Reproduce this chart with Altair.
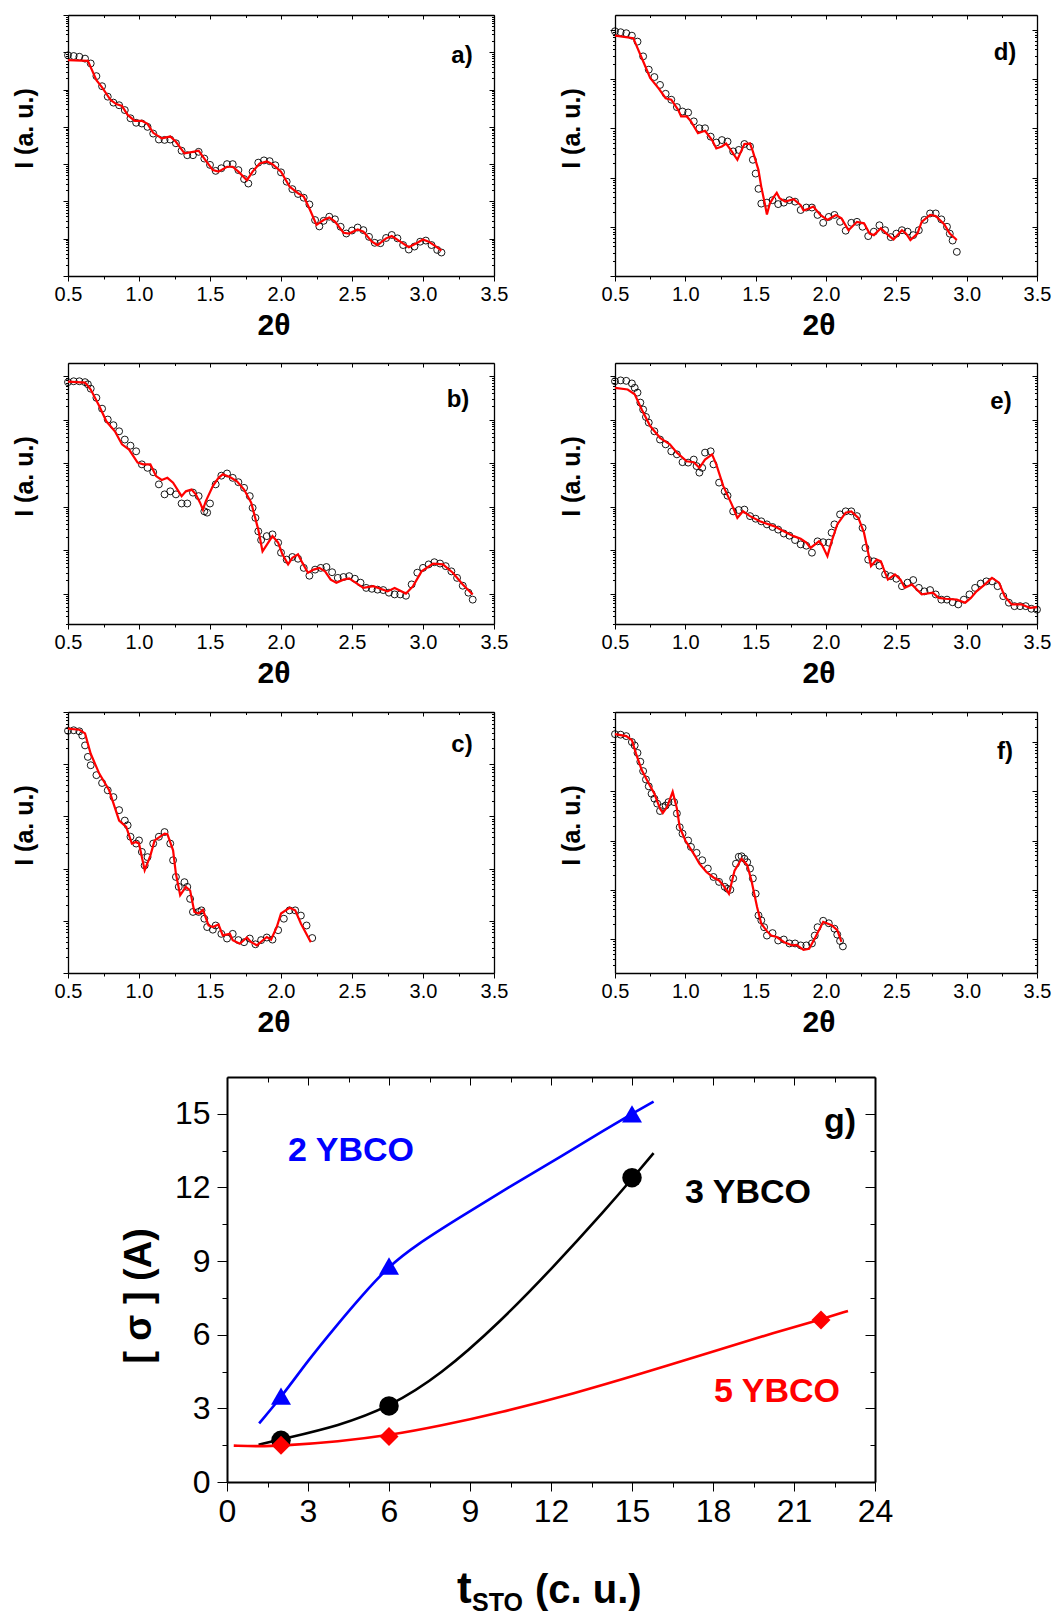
import math
import altair as alt
import pandas as pd

W, H = 1058, 1618
FONT = "Liberation Sans"

# ---------------- XRR data: 2theta (deg) and intensity read as log10 (a.u.) ----------------
A_X = [0.50,0.54,0.58,0.62,0.66,0.70,0.74,0.78,0.82,0.86,0.90,0.94,0.98,1.02,1.06,1.10,1.14,1.18,1.22,1.26,
       1.30,1.34,1.38,1.42,1.46,1.50,1.54,1.58,1.62,1.66,1.70,1.74,1.77,1.80,1.84,1.88,1.92,1.96,2.00,2.04,
       2.08,2.12,2.16,2.20,2.24,2.27,2.30,2.34,2.38,2.42,2.46,2.50,2.54,2.58,2.62,2.66,2.70,2.74,2.78,2.82,
       2.86,2.90,2.94,2.98,3.02,3.06,3.10,3.13]
A_LOG = [5.92,5.90,5.88,5.83,5.70,5.36,5.09,4.81,4.65,4.58,4.45,4.23,4.11,4.09,4.00,3.82,3.66,3.65,3.66,3.56,
         3.36,3.24,3.24,3.33,3.15,2.98,2.82,2.89,3.00,3.00,2.84,2.60,2.48,2.80,3.04,3.10,3.08,2.97,2.78,2.53,
         2.33,2.20,2.10,1.92,1.50,1.33,1.48,1.59,1.52,1.32,1.14,1.22,1.30,1.23,1.05,0.89,0.88,1.02,1.10,1.01,
         0.83,0.71,0.79,0.92,0.95,0.83,0.70,0.63]
A_FIT_X = [0.50,0.64,0.70,0.74,0.80,0.84,0.88,0.92,0.97,1.02,1.06,1.10,1.16,1.22,1.26,1.32,1.38,1.42,1.46,1.52,
           1.56,1.62,1.66,1.70,1.76,1.80,1.85,1.90,1.94,2.00,2.06,2.12,2.16,2.20,2.25,2.30,2.34,2.38,2.44,2.48,
           2.54,2.58,2.64,2.68,2.74,2.78,2.84,2.90,2.96,3.00,3.04,3.10,3.13]
A_FIT_LOG = [5.79,5.77,5.25,5.06,4.72,4.61,4.56,4.32,4.16,4.16,4.08,3.84,3.69,3.74,3.60,3.29,3.33,3.36,3.15,2.84,
             2.80,2.93,2.93,2.80,2.57,2.80,3.02,3.07,3.00,2.80,2.40,2.22,2.13,1.81,1.37,1.50,1.57,1.46,1.16,1.14,
             1.25,1.19,0.92,0.83,1.01,1.07,0.92,0.77,0.89,0.98,0.92,0.77,0.68]

B_X = [0.50,0.54,0.58,0.62,0.64,0.66,0.70,0.74,0.78,0.82,0.86,0.90,0.94,0.98,1.02,1.06,1.10,1.14,1.18,1.22,
       1.26,1.30,1.34,1.38,1.42,1.46,1.48,1.50,1.54,1.58,1.62,1.66,1.70,1.74,1.78,1.80,1.82,1.84,1.86,1.90,
       1.94,1.98,2.00,2.04,2.08,2.12,2.16,2.20,2.24,2.28,2.32,2.36,2.40,2.44,2.48,2.52,2.56,2.60,2.64,2.68,
       2.72,2.76,2.80,2.84,2.88,2.92,2.96,3.00,3.04,3.08,3.12,3.16,3.20,3.24,3.28,3.32,3.35]
B_LOG = [5.86,5.88,5.88,5.86,5.81,5.71,5.50,5.25,5.00,4.87,4.73,4.54,4.40,4.27,3.97,3.89,3.79,3.51,3.28,3.35,
         3.28,3.07,3.07,3.32,3.24,2.89,2.86,3.07,3.51,3.71,3.76,3.66,3.56,3.43,3.24,2.97,2.74,2.43,2.23,2.32,
         2.36,2.17,1.94,1.78,1.84,1.80,1.59,1.41,1.55,1.59,1.61,1.49,1.36,1.38,1.40,1.34,1.25,1.13,1.11,1.09,
         1.08,1.02,0.98,0.98,0.95,1.21,1.48,1.59,1.67,1.72,1.69,1.63,1.51,1.36,1.18,1.02,0.86]
B_FIT_X = [0.50,0.62,0.66,0.72,0.77,0.83,0.88,0.93,0.99,1.03,1.08,1.12,1.16,1.20,1.24,1.30,1.33,1.37,1.40,1.43,
           1.45,1.47,1.52,1.56,1.59,1.64,1.69,1.74,1.79,1.84,1.87,1.91,1.94,1.98,2.01,2.05,2.08,2.12,2.15,2.19,
           2.23,2.27,2.31,2.35,2.39,2.44,2.48,2.58,2.65,2.75,2.80,2.88,2.93,2.99,3.07,3.14,3.21,3.28,3.35]
B_FIT_LOG = [5.87,5.85,5.69,5.31,4.96,4.73,4.43,4.31,4.01,3.97,3.97,3.70,3.61,3.66,3.55,3.24,3.35,3.39,3.28,3.09,
             2.93,3.12,3.47,3.66,3.74,3.68,3.58,3.39,3.09,2.47,1.97,2.17,2.32,2.17,1.90,1.67,1.82,1.90,1.71,1.48,
             1.55,1.59,1.51,1.32,1.25,1.32,1.35,1.13,1.17,1.05,1.13,1.00,1.17,1.51,1.69,1.67,1.48,1.21,0.98]

C_X = [0.50,0.54,0.58,0.60,0.62,0.64,0.66,0.70,0.74,0.78,0.82,0.86,0.90,0.92,0.94,0.98,1.00,1.02,1.04,1.06,
       1.10,1.14,1.18,1.22,1.24,1.26,1.28,1.32,1.34,1.36,1.38,1.42,1.44,1.46,1.48,1.52,1.54,1.58,1.62,1.66,
       1.70,1.74,1.78,1.82,1.86,1.90,1.94,1.98,2.02,2.06,2.10,2.14,2.18,2.22]
C_LOG = [4.64,4.65,4.63,4.55,4.36,4.14,3.98,3.79,3.64,3.50,3.37,3.12,2.92,2.83,2.61,2.48,2.54,2.32,2.06,2.22,
         2.48,2.61,2.70,2.48,2.16,1.84,1.65,1.74,1.65,1.42,1.17,1.17,1.20,1.04,0.88,0.83,0.91,0.75,0.66,0.75,
         0.63,0.59,0.66,0.55,0.63,0.68,0.64,0.82,1.04,1.20,1.20,1.10,0.91,0.67]
C_FIT_X = [0.50,0.58,0.62,0.66,0.72,0.79,0.86,0.91,0.95,0.98,1.00,1.04,1.08,1.11,1.18,1.20,1.24,1.26,1.29,1.33,
           1.36,1.39,1.42,1.45,1.49,1.52,1.56,1.59,1.64,1.66,1.71,1.76,1.79,1.83,1.90,1.93,1.97,2.00,2.06,2.10,
           2.14,2.21]
C_FIT_LOG = [4.68,4.66,4.59,4.20,3.82,3.50,2.92,2.80,2.48,2.51,2.48,1.97,2.25,2.54,2.67,2.66,2.35,1.90,1.49,1.65,
             1.58,1.17,1.14,1.21,0.91,0.88,0.93,0.72,0.75,0.63,0.56,0.68,0.59,0.53,0.69,0.64,0.88,1.14,1.25,1.20,
             0.95,0.59]

D_X = [0.50,0.54,0.58,0.62,0.66,0.70,0.74,0.78,0.82,0.86,0.90,0.94,0.98,1.02,1.06,1.10,1.14,1.18,1.22,1.26,
       1.30,1.34,1.38,1.42,1.46,1.48,1.50,1.52,1.54,1.58,1.62,1.66,1.70,1.74,1.78,1.82,1.86,1.90,1.94,1.98,
       2.02,2.06,2.10,2.14,2.18,2.22,2.26,2.30,2.34,2.38,2.42,2.46,2.50,2.54,2.58,2.62,2.66,2.70,2.74,2.78,
       2.82,2.86,2.88,2.90,2.93]
D_LOG = [4.97,4.95,4.93,4.88,4.76,4.46,4.19,4.04,3.88,3.70,3.58,3.43,3.34,3.32,3.14,3.00,3.00,2.83,2.71,2.76,
         2.73,2.53,2.56,2.68,2.63,2.36,2.08,1.77,1.47,1.49,1.54,1.46,1.49,1.54,1.51,1.34,1.39,1.39,1.24,1.08,
         1.20,1.24,1.10,0.92,1.08,1.10,1.00,0.81,0.90,1.03,0.93,0.79,0.86,0.93,0.90,0.83,0.93,1.14,1.27,1.27,
         1.15,1.00,0.86,0.72,0.49]
D_FIT_X = [0.50,0.63,0.70,0.75,0.81,0.86,0.90,0.95,0.97,1.01,1.04,1.09,1.14,1.19,1.22,1.26,1.29,1.33,1.37,1.39,
           1.42,1.46,1.48,1.52,1.54,1.56,1.58,1.60,1.63,1.65,1.67,1.71,1.77,1.82,1.84,1.88,1.91,1.96,2.01,2.07,
           2.11,2.16,2.22,2.27,2.31,2.34,2.39,2.43,2.48,2.54,2.57,2.60,2.65,2.68,2.74,2.78,2.84,2.88,2.93]
D_FIT_LOG = [4.88,4.83,4.36,4.02,3.81,3.61,3.58,3.37,3.24,3.24,3.14,2.90,2.95,2.76,2.59,2.63,2.69,2.53,2.36,2.49,
             2.68,2.69,2.53,2.15,1.81,1.54,1.25,1.47,1.61,1.69,1.58,1.51,1.56,1.44,1.33,1.37,1.41,1.24,1.14,1.24,
             1.17,0.93,1.10,1.07,0.86,0.83,0.97,0.86,0.74,0.93,0.86,0.73,0.86,1.10,1.24,1.22,1.05,0.86,0.73]

E_X = [0.50,0.54,0.58,0.62,0.64,0.66,0.68,0.70,0.72,0.74,0.78,0.82,0.86,0.90,0.94,0.98,1.02,1.06,1.08,1.10,
       1.12,1.14,1.18,1.20,1.24,1.28,1.30,1.34,1.38,1.42,1.46,1.50,1.54,1.58,1.62,1.66,1.70,1.74,1.78,1.82,
       1.86,1.90,1.94,1.98,2.02,2.04,2.06,2.10,2.14,2.18,2.22,2.26,2.28,2.30,2.34,2.38,2.42,2.46,2.50,2.54,
       2.58,2.62,2.66,2.70,2.74,2.78,2.82,2.86,2.90,2.94,2.98,3.02,3.06,3.10,3.14,3.18,3.22,3.26,3.30,3.34,
       3.38,3.42,3.46,3.50]
E_LOG = [5.88,5.90,5.89,5.83,5.73,5.62,5.39,5.23,5.06,4.93,4.73,4.54,4.43,4.27,4.20,4.02,4.01,4.08,3.93,3.78,
         3.89,4.24,4.27,3.97,3.55,3.35,3.25,2.89,2.92,2.93,2.78,2.72,2.66,2.59,2.53,2.47,2.38,2.33,2.23,2.13,
         2.10,1.94,2.20,2.18,2.17,2.40,2.59,2.82,2.89,2.89,2.78,2.51,2.05,1.78,1.74,1.64,1.44,1.40,1.34,1.17,
         1.25,1.31,1.13,1.05,1.08,0.98,0.86,0.86,0.80,0.75,0.86,0.98,1.13,1.23,1.28,1.28,1.17,0.94,0.79,0.71,
         0.71,0.71,0.65,0.63]
E_FIT_X = [0.50,0.59,0.64,0.69,0.75,0.82,0.89,0.94,1.01,1.06,1.10,1.14,1.19,1.22,1.27,1.33,1.37,1.41,1.46,1.53,
           1.63,1.72,1.77,1.82,1.86,1.89,1.95,1.97,2.01,2.04,2.08,2.14,2.18,2.23,2.27,2.30,2.32,2.36,2.39,2.42,
           2.44,2.49,2.53,2.56,2.61,2.68,2.76,2.80,2.85,2.93,2.99,3.03,3.07,3.13,3.18,3.23,3.27,3.32,3.39,3.45,
           3.50]
E_FIT_LOG = [5.73,5.69,5.58,5.23,4.85,4.58,4.43,4.24,4.04,4.02,3.89,4.08,4.20,3.97,3.47,3.05,2.74,2.89,2.78,2.66,
             2.55,2.40,2.32,2.26,2.17,2.05,2.20,2.13,1.86,2.20,2.59,2.86,2.89,2.74,2.40,1.94,1.63,1.78,1.74,1.48,
             1.32,1.44,1.32,1.13,1.21,0.98,1.02,0.90,0.88,0.86,0.79,0.90,1.05,1.21,1.36,1.25,0.94,0.75,0.75,0.67,
             0.69]

F_X = [0.50,0.54,0.58,0.62,0.64,0.66,0.68,0.70,0.72,0.74,0.76,0.78,0.80,0.82,0.84,0.86,0.88,0.92,0.94,0.96,
       0.98,1.02,1.04,1.08,1.12,1.16,1.20,1.24,1.28,1.30,1.32,1.34,1.36,1.38,1.40,1.42,1.44,1.46,1.48,1.50,
       1.52,1.54,1.56,1.58,1.62,1.66,1.70,1.74,1.78,1.82,1.86,1.90,1.92,1.94,1.98,2.02,2.06,2.08,2.10,2.12]
F_LOG = [5.16,5.15,5.12,5.00,4.93,4.78,4.60,4.41,4.24,4.10,3.95,3.85,3.75,3.60,3.68,3.71,3.78,3.78,3.55,3.27,
         3.14,3.00,2.87,2.75,2.60,2.43,2.26,2.16,2.06,2.02,2.00,2.23,2.53,2.67,2.68,2.63,2.56,2.43,2.23,1.92,
         1.48,1.38,1.24,1.07,1.12,0.97,0.99,0.91,0.91,0.87,0.87,0.91,1.07,1.24,1.37,1.32,1.21,1.09,0.96,0.85]
F_FIT_X = [0.50,0.58,0.62,0.65,0.69,0.74,0.78,0.82,0.84,0.87,0.91,0.94,0.96,1.00,1.06,1.10,1.15,1.20,1.24,1.27,
           1.31,1.35,1.40,1.44,1.47,1.51,1.54,1.58,1.61,1.65,1.70,1.76,1.79,1.84,1.88,1.92,1.98,2.04,2.08,2.11]
F_FIT_LOG = [5.16,5.12,5.04,4.76,4.43,4.16,3.95,3.65,3.56,3.68,3.99,3.65,3.27,3.00,2.73,2.53,2.36,2.25,2.19,2.09,
             1.92,2.39,2.63,2.50,2.19,1.65,1.31,1.16,1.07,1.04,0.94,0.87,0.88,0.78,0.80,1.01,1.35,1.28,1.18,0.94]

# ---------------- panel g: roughness vs STO thickness ----------------
T_2Y = [2, 6, 15]
S_2Y = [3.5, 8.8, 15.0]
T_3Y = [2, 6, 15]
S_3Y = [1.7, 3.1, 12.4]
T_5Y = [2, 6, 22]
S_5Y = [1.5, 1.85, 6.6]
CURVE_2Y_T = [1.19, 2.04, 3.0, 4.0, 5.0, 6.0, 7.0, 8.5, 10.5, 12.5, 14.0, 15.0, 15.8]
CURVE_2Y_S = [2.39, 3.5, 4.95, 6.3, 7.6, 8.8, 9.65, 10.7, 12.05, 13.35, 14.35, 15.0, 15.5]
CURVE_3Y_T = [1.17, 2.04, 4.15, 6.0, 7.9, 10.1, 12.1, 14.1, 15.0, 15.8]
CURVE_3Y_S = [1.52, 1.75, 2.29, 3.05, 4.35, 6.5, 8.77, 11.2, 12.35, 13.4]
CURVE_5Y_T = [0.25, 1.17, 2.04, 4.15, 6.0, 7.9, 10.1, 12.9, 15.35, 18.1, 20.3, 22.0, 23.0]
CURVE_5Y_S = [1.48, 1.45, 1.48, 1.65, 1.9, 2.29, 2.82, 3.62, 4.42, 5.35, 6.1, 6.62, 6.97]

# ---------------- layout (pixel boxes: left, right, top, bottom) ----------------
PANELS = [
    dict(box=(68, 494, 15, 276), dec=(0.0, 7.0), pts=(A_X, A_LOG), fit=(A_FIT_X, A_FIT_LOG), lab="a)", lxy=(462, 56)),
    dict(box=(615, 1037, 15, 276), dec=(0.0, 5.3), pts=(D_X, D_LOG), fit=(D_FIT_X, D_FIT_LOG), lab="d)", lxy=(1005, 53)),
    dict(box=(68, 494, 363, 624), dec=(0.3, 6.3), pts=(B_X, B_LOG), fit=(B_FIT_X, B_FIT_LOG), lab="b)", lxy=(458, 400)),
    dict(box=(615, 1037, 363, 624), dec=(0.3, 6.3), pts=(E_X, E_LOG), fit=(E_FIT_X, E_FIT_LOG), lab="e)", lxy=(1001, 402)),
    dict(box=(68, 494, 712, 973), dec=(0.0, 5.0), pts=(C_X, C_LOG), fit=(C_FIT_X, C_FIT_LOG), lab="c)", lxy=(462, 745)),
    dict(box=(615, 1037, 712, 973), dec=(0.31, 5.61), pts=(F_X, F_LOG), fit=(F_FIT_X, F_FIT_LOG), lab="f)", lxy=(1005, 752)),
]
G_BOX = (227, 875, 1077, 1482)

XT = [0.5 + 0.25 * i for i in range(13)]
LOG_MAJOR = "abs(log(datum.value)/LN10 - round(log(datum.value)/LN10)) < 0.001"
X_MAJOR = "abs(datum.value*2 - round(datum.value*2)) < 0.001"
G_MAJOR = "abs(datum.value/3 - round(datum.value/3)) < 0.001"


def log_ticks(lo, hi):
    vals = []
    for n in range(int(math.floor(lo)), int(math.ceil(hi)) + 1):
        for k in range(1, 10):
            v = k * 10 ** n
            if 10 ** lo - 1e-9 <= v <= 10 ** hi + 1e-9:
                vals.append(v)
    return vals


def tsize(test, big, small):
    return {"condition": {"test": test, "value": big}, "value": small}


def axis(orient, offset, values, test, big, small, dw=1.3, **kw):
    return alt.Axis(orient=orient, offset=offset, values=values, title=None, grid=False,
                    domainColor="black", domainWidth=dw, tickColor="black", tickWidth=1,
                    tickSize=tsize(test, big, small), **kw)


def txt(s, x, y, size, angle=0, color="black", align="center", baseline="middle"):
    return alt.Chart(alt.Data(values=[{"k": 0}])).mark_text(
        text=s, font=FONT, fontSize=size, fontWeight="bold", angle=angle, color=color,
        align=align, baseline=baseline).encode(x=alt.value(x), y=alt.value(y))


layers = []
for p in PANELS:
    L, R, T, B = p["box"]
    lo, hi = p["dec"]
    xs = alt.Scale(domain=[0.5, 3.5], range=[L, R], nice=False, zero=False)
    ys = alt.Scale(type="log", domain=[10 ** lo, 10 ** hi], range=[B, T], nice=False)
    yt = log_ticks(lo, hi)
    pts = pd.DataFrame({"tt": p["pts"][0], "I": [10 ** v for v in p["pts"][1]]})
    fit = pd.DataFrame({"tt": p["fit"][0], "I": [10 ** v for v in p["fit"][1]]})
    ax_b = axis("bottom", B - H, XT, X_MAJOR, 5, 3, labels=True,
                labelExpr=X_MAJOR + " ? format(datum.value, '.1f') : ''",
                labelFont=FONT, labelFontSize=20, labelColor="black", labelPadding=3,
                labelFlush=False, labelOverlap=False)
    ax_l = axis("left", -L, yt, LOG_MAJOR, 5, 2.5, labels=False)
    ax_t = axis("bottom", T - H, XT, X_MAJOR, 4, 2.5, labels=False)
    ax_r = axis("left", -R, yt, LOG_MAJOR, 5, 2.5, labels=False)
    layers.append(
        alt.Chart(pts).mark_point(shape="circle", filled=False, color="black", size=48,
                                  strokeWidth=0.9, opacity=1)
        .encode(x=alt.X("tt:Q", scale=xs, axis=ax_b), y=alt.Y("I:Q", scale=ys, axis=ax_l)))
    layers.append(
        alt.Chart(fit).mark_line(color="#ff0000", strokeWidth=2.2)
        .encode(x=alt.X("tt:Q", scale=xs, axis=ax_t), y=alt.Y("I:Q", scale=ys, axis=ax_r)))

# ---------------- panel g ----------------
L, R, T, B = G_BOX
gx = alt.Scale(domain=[0, 24], range=[L, R], nice=False, zero=False)
gy = alt.Scale(domain=[0, 16.5], range=[B, T], nice=False, zero=False)
GXT = [1.5 * i for i in range(17)]
GYT = [1.5 * i for i in range(11)]
gax_b = axis("bottom", B - H, GXT, G_MAJOR, 9, 5, dw=2, labels=True,
             labelExpr=G_MAJOR + " ? datum.label : ''", labelFont=FONT, labelFontSize=32,
             labelColor="black", labelPadding=5, labelFlush=False, labelOverlap=False)
gax_l = axis("left", -L, GYT, G_MAJOR, 10, 5, dw=2, labels=True,
             labelExpr=G_MAJOR + " ? datum.label : ''", labelFont=FONT, labelFontSize=32,
             labelColor="black", labelPadding=7, labelFlush=False, labelOverlap=False)
gax_t = axis("bottom", T - H, GXT, G_MAJOR, 8, 5, dw=2, labels=False)
gax_r = axis("left", -R, GYT, G_MAJOR, 10, 5, dw=2, labels=False)

series = [
    (CURVE_2Y_T, CURVE_2Y_S, T_2Y, S_2Y, "#0000ff", "triangle-up", 400),
    (CURVE_3Y_T, CURVE_3Y_S, T_3Y, S_3Y, "#000000", "circle", 380),
    (CURVE_5Y_T, CURVE_5Y_S, T_5Y, S_5Y, "#ff0000", "diamond", 360),
]
for i, (ct, cs, mt, ms, col, shp, sz) in enumerate(series):
    if i == 0:
        axx, axy = gax_b, gax_l
    elif i == 1:
        axx, axy = gax_t, gax_r
    else:
        axx, axy = None, None
    cdf = pd.DataFrame({"t": ct, "s": cs})
    layers.append(
        alt.Chart(cdf).mark_line(color=col, strokeWidth=2.6, interpolate="basis")
        .encode(x=alt.X("t:Q", scale=gx, axis=axx), y=alt.Y("s:Q", scale=gy, axis=axy)))
for ct, cs, mt, ms, col, shp, sz in series:
    mdf = pd.DataFrame({"t": mt, "s": ms})
    layers.append(
        alt.Chart(mdf).mark_point(shape=shp, filled=True, color=col, size=sz, opacity=1)
        .encode(x=alt.X("t:Q", scale=gx, axis=None), y=alt.Y("s:Q", scale=gy, axis=None)))

# ---------------- text ----------------
for p in PANELS:
    L, R, T, B = p["box"]
    layers.append(txt("I (a. u.)", L - 43, (T + B) / 2 - 17, 25, angle=270))
    layers.append(txt("2\u03b8", (L + R) / 2 - 7, B + 50, 30))
    layers.append(txt(p["lab"], p["lxy"][0], p["lxy"][1], 24))

layers.append(txt("[ \u03c3 ] (A)", 140, 1296, 38, angle=270))
layers.append(txt("2 YBCO", 351, 1151, 34, color="#0000ff"))
layers.append(txt("3 YBCO", 748, 1193, 34))
layers.append(txt("5 YBCO", 777, 1392, 34, color="#ff0000"))
layers.append(txt("g)", 840, 1122, 34))
layers.append(txt("t", 457, 1603, 44, align="left", baseline="alphabetic"))
layers.append(txt("STO", 472, 1611, 25, align="left", baseline="alphabetic"))
layers.append(txt("(c. u.)", 535, 1603, 40, align="left", baseline="alphabetic"))

chart = (
    alt.layer(*layers)
    .resolve_scale(x="independent", y="independent")
    .resolve_axis(x="independent", y="independent")
    .properties(width=W, height=H, autosize=alt.AutoSizeParams(type="none"), padding=0,
                background="white")
    .configure_view(stroke=None)
)

chart.save("out.html", embed_options={"renderer": "svg", "actions": False})
